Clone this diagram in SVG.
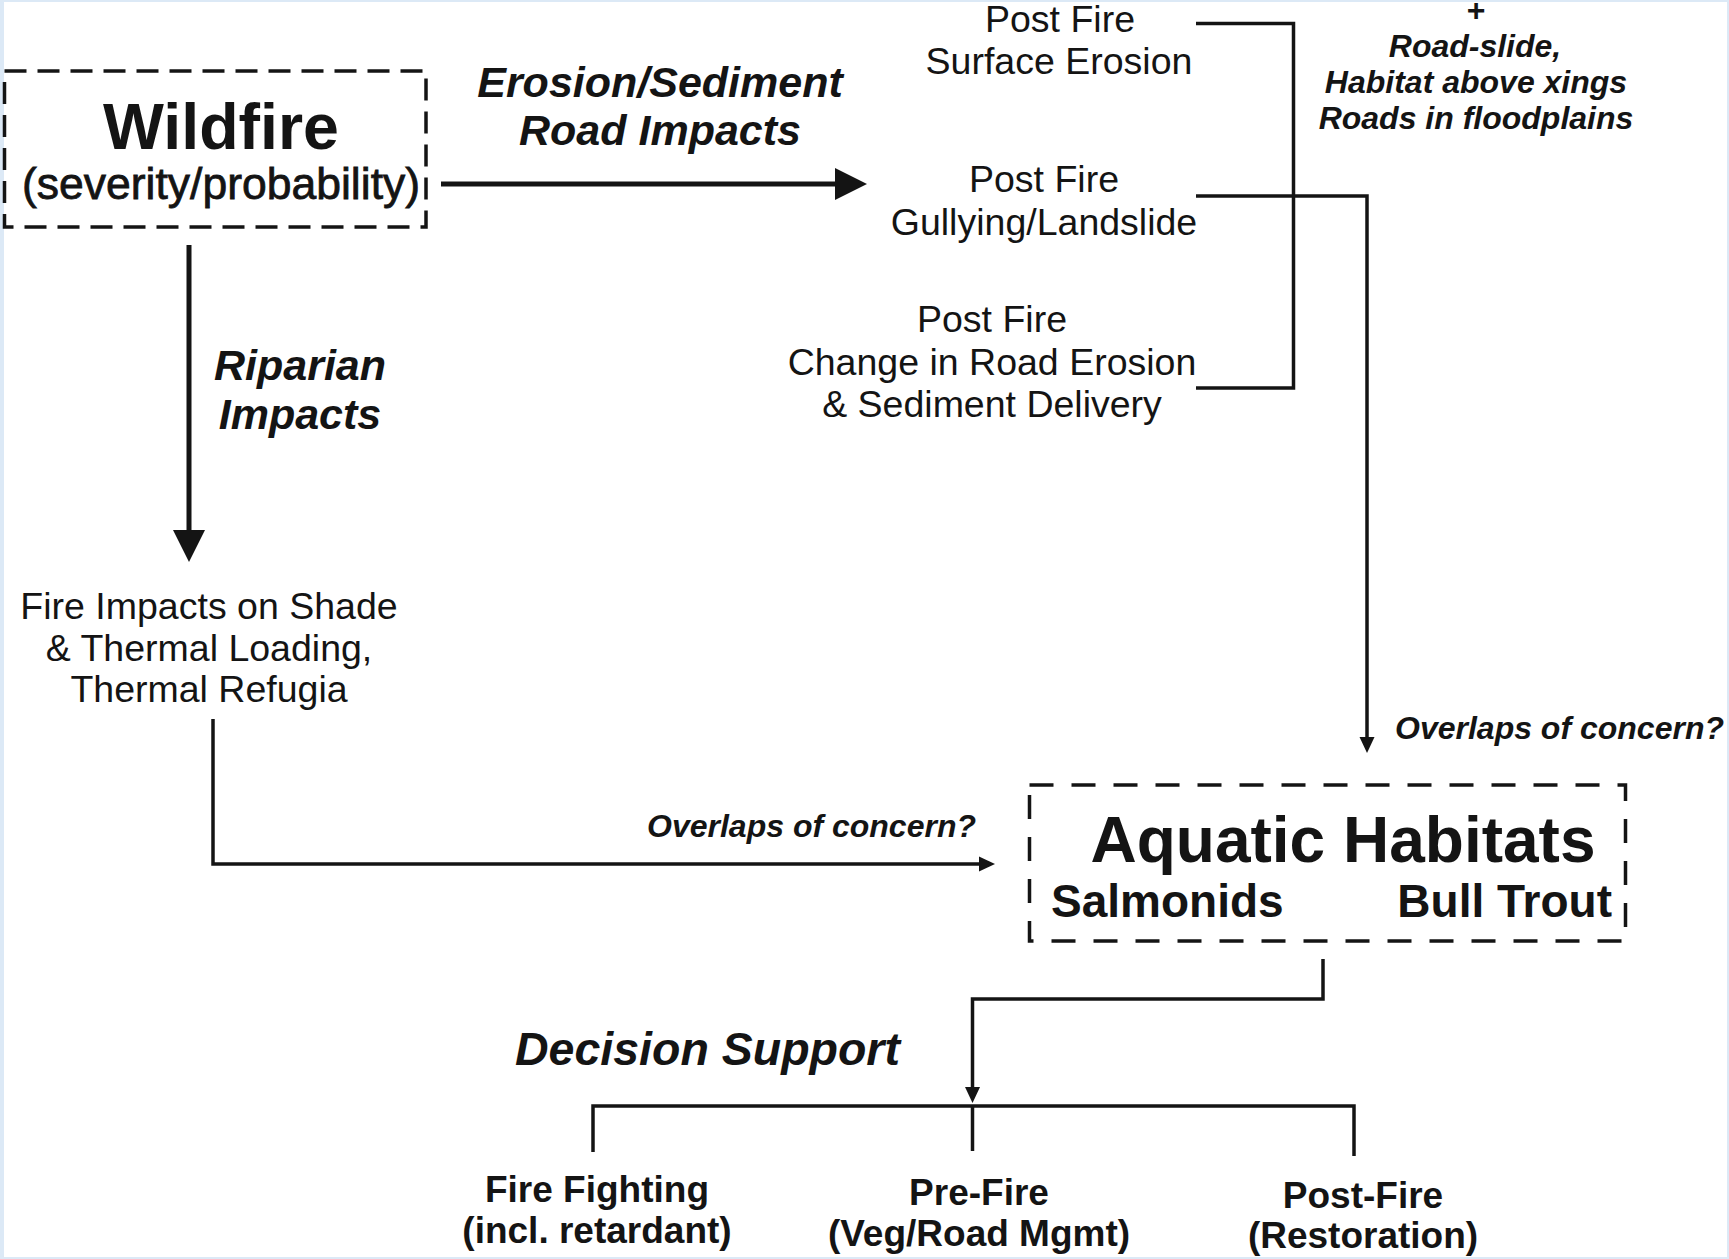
<svg xmlns="http://www.w3.org/2000/svg" width="1729" height="1259" viewBox="0 0 1729 1259">
<style>
.t{font-family:"Liberation Sans",Arial,Helvetica,sans-serif;fill:#141414}
.reg{font-size:37.5px}
.bi{font-weight:bold;font-style:italic}
.b{font-weight:bold}
.c{text-anchor:middle}
.dash{fill:none;stroke:#141414;stroke-width:3.5}
.thick{fill:none;stroke:#141414;stroke-width:5}
.thin{fill:none;stroke:#141414;stroke-width:3.5}
</style>
<defs>
<marker id="bigArrow" viewBox="0 0 32 32" refX="20" refY="16" markerWidth="32" markerHeight="32" markerUnits="userSpaceOnUse" orient="auto">
<path d="M0,0 L32,16 L0,32 Z" fill="#141414"/>
</marker>
<marker id="smallArrow" viewBox="0 0 16 16" refX="10" refY="8" markerWidth="16" markerHeight="16" markerUnits="userSpaceOnUse" orient="auto">
<path d="M0,0.5 L16,8 L0,15.5 Z" fill="#141414"/>
</marker>
</defs>
<rect x="0" y="0" width="1729" height="1259" fill="#dce9f6"/>
<rect x="4" y="2" width="1723" height="1255" fill="#ffffff"/>

<g id="connectors">
<path class="thick" d="M441,184 H855" marker-end="url(#bigArrow)"/>
<path class="thick" d="M189,245 V550" marker-end="url(#bigArrow)"/>
<path class="thin" d="M1196,23.5 H1293.5 V388 H1196"/>
<path class="thin" d="M1196,196 H1367 V747" marker-end="url(#smallArrow)"/>
<path class="thin" d="M213,719 V864 H989" marker-end="url(#smallArrow)"/>
<path class="thin" d="M1323,959 V999 H972.5 V1097" marker-end="url(#smallArrow)"/>
<path class="thin" d="M593,1152 V1106 H1354 V1156"/>
<path class="thin" d="M972.5,1106 V1151"/>
</g>

<g id="label-erosion">
<text class="t bi c" x="660" y="97" font-size="43">Erosion/Sediment</text>
<text class="t bi c" x="660" y="145" font-size="43">Road Impacts</text>
</g>
<g id="label-riparian">
<text class="t bi c" x="300" y="380" font-size="43">Riparian</text>
<text class="t bi c" x="300" y="429" font-size="43">Impacts</text>
</g>
<g id="label-overlaps-top">
<text class="t bi" x="1395" y="739" font-size="32">Overlaps of concern?</text>
</g>
<g id="label-overlaps-left">
<text class="t bi" x="976" y="837" font-size="32" text-anchor="end">Overlaps of concern?</text>
</g>
<g id="label-decision">
<text class="t bi" x="515" y="1065" font-size="46.5">Decision Support</text>
</g>

<g id="wildfire">
<rect class="dash" x="4.5" y="71" width="421.5" height="156" stroke-dasharray="22 11"/>
<text class="t b c" x="221" y="149" font-size="64.5">Wildfire</text>
<text class="t c" x="221" y="199" font-size="44.5" stroke="#141414" stroke-width="0.8">(severity/probability)</text>
</g>

<g id="surface-erosion">
<text class="t reg c" x="1060" y="32">Post Fire</text>
<text class="t reg c" x="1059" y="74">Surface Erosion</text>
</g>

<g id="gullying">
<text class="t reg c" x="1044" y="192">Post Fire</text>
<text class="t reg c" x="1044" y="235">Gullying/Landslide</text>
</g>

<g id="road-erosion">
<text class="t reg c" x="992" y="332">Post Fire</text>
<text class="t reg c" x="992" y="375">Change in Road Erosion</text>
<text class="t reg c" x="992" y="417">&amp; Sediment Delivery</text>
</g>

<g id="road-slide">
<text class="t b c" x="1476" y="21" font-size="32">+</text>
<text class="t bi c" x="1475" y="57" font-size="32">Road-slide,</text>
<text class="t bi c" x="1476" y="93" font-size="32">Habitat above xings</text>
<text class="t bi c" x="1476" y="129" font-size="32">Roads in floodplains</text>
</g>

<g id="thermal">
<text class="t reg c" x="209" y="619">Fire Impacts on Shade</text>
<text class="t reg c" x="209" y="661">&amp; Thermal Loading,</text>
<text class="t reg c" x="209" y="702">Thermal Refugia</text>
</g>

<g id="aquatic-habitats">
<rect class="dash" x="1029.5" y="785" width="596" height="156" stroke-dasharray="24 18"/>
<text class="t b c" x="1343" y="862" font-size="64">Aquatic Habitats</text>
<text class="t b" x="1051" y="917" font-size="46">Salmonids</text>
<text class="t b" x="1612" y="917" font-size="46" text-anchor="end">Bull Trout</text>
</g>

<g id="fire-fighting">
<text class="t b c" x="597" y="1202" font-size="37">Fire Fighting</text>
<text class="t b c" x="597" y="1243" font-size="37">(incl. retardant)</text>
</g>
<g id="pre-fire">
<text class="t b c" x="979" y="1205" font-size="37">Pre-Fire</text>
<text class="t b c" x="979" y="1246" font-size="37">(Veg/Road Mgmt)</text>
</g>
<g id="post-fire">
<text class="t b c" x="1363" y="1208" font-size="37">Post-Fire</text>
<text class="t b c" x="1363" y="1248" font-size="37">(Restoration)</text>
</g>
</svg>
